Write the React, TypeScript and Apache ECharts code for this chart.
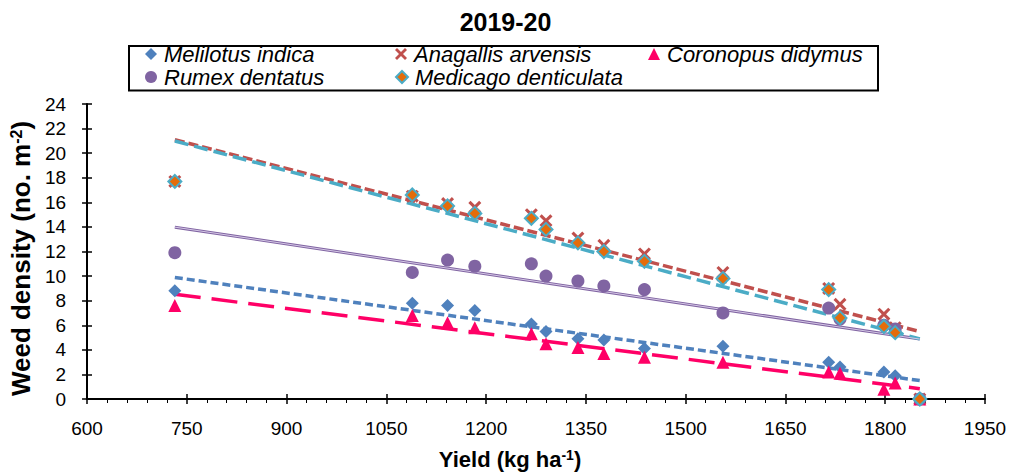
import { useEffect, useRef } from 'react';
import * as echarts from 'echarts';

const yieldKg = [732, 1089, 1142, 1183, 1268, 1290, 1338, 1377, 1438, 1556, 1715, 1732, 1798, 1815, 1852];
const melilotus = [8.8, 7.8, 7.6, 7.2, 6.1, 5.5, 4.9, 4.8, 4.1, 4.3, 3.0, 2.6, 2.2, 1.9, 0];
const anagallis = [17.7, 16.5, 15.9, 15.6, 15.0, 14.5, 13.1, 12.5, 11.8, 10.3, 9.0, 7.7, 6.9, 5.8, 0];
const coronopus = [7.6, 6.8, 6.2, 5.8, 5.3, 4.5, 4.2, 3.7, 3.4, 3.0, 2.2, 2.1, 0.8, 1.3, 0];
const rumex = [11.9, 10.3, 11.3, 10.8, 11.0, 10.0, 9.6, 9.2, 8.9, 7.0, 7.4, 6.5, 6.0, 5.7, 0];
const medicago = [17.7, 16.6, 15.7, 15.1, 14.7, 13.8, 12.7, 12.0, 11.2, 9.8, 8.9, 6.6, 5.9, 5.4, 0];

const names = ['Melilotus indica', 'Anagallis arvensis', 'Coronopus didymus', 'Rumex dentatus', 'Medicago denticulata'];
const xTicks = { min: 600, max: 1950, interval: 150 };
const yTicks = { min: 0, max: 24, interval: 2 };

const FONT = '"Liberation Sans", Arial, sans-serif';
const X_PATH = 'path://M0,2 L2,0 L6,4 L10,0 L12,2 L8,6 L12,10 L10,12 L6,8 L2,12 L0,10 L4,6 Z';

function trend(xs: number[], ys: number[]) {
  const n = xs.length;
  const mx = xs.reduce((a, b) => a + b, 0) / n;
  const my = ys.reduce((a, b) => a + b, 0) / n;
  let sxy = 0, sxx = 0;
  for (let i = 0; i < n; i++) {
    sxy += (xs[i] - mx) * (ys[i] - my);
    sxx += (xs[i] - mx) * (xs[i] - mx);
  }
  const b = sxy / sxx;
  const a = my - b * mx;
  const x0 = Math.min(...xs), x1 = Math.max(...xs);
  return [[x0, a + b * x0], [x1, a + b * x1]];
}

function pts(ys: number[]) {
  return yieldKg.map((x, i) => [x, ys[i]]);
}

export default function App() {
  const ref = useRef<HTMLDivElement>(null);
  useEffect(() => {
    if (!ref.current) return;
    const chart = echarts.init(ref.current, null, { renderer: 'svg' });
    const lineSeries = (name: string, ys: number[], color: string, width: number, type: any, z = 2) => ({
      type: 'line', name, data: trend(yieldKg, ys), symbol: 'none', silent: true, z,
      lineStyle: { color, width, type, cap: 'butt' },
    });
    const legendItem = (name: string, left: number, top: number) => ({
      data: [name], left, top, padding: 0, itemGap: 0, itemWidth: 12, itemHeight: 12,
      selectedMode: false,
      textStyle: { fontFamily: FONT, fontSize: 22, fontStyle: 'italic', color: '#000', lineHeight: 22, padding: [0, 0, 0, 2] },
    });
    chart.setOption({
      animation: false,
      backgroundColor: '#fff',
      title: {
        text: '2019-20', left: 'center', top: 9, padding: 0,
        textStyle: { fontFamily: FONT, fontSize: 25, fontWeight: 'bold', color: '#000' },
      },
      legend: [
        legendItem(names[0], 145, 43),
        legendItem(names[1], 395, 43),
        legendItem(names[2], 648, 43),
        legendItem(names[3], 145, 66),
        legendItem(names[4], 395, 66),
      ],
      graphic: [{
        type: 'rect', shape: { x: 129, y: 46, width: 749, height: 44.5 },
        style: { fill: 'none', stroke: '#000', lineWidth: 2 }, z: 10,
      }],
      grid: { left: 77, right: 26, top: 104, bottom: 75 },
      xAxis: [
        {
          type: 'value', ...xTicks, position: 'bottom',
          name: 'Yield (kg ha{sup|-1})', nameLocation: 'middle', nameGap: 49,
          nameTextStyle: {
            fontFamily: FONT, fontSize: 22, fontWeight: 'bold', color: '#000', padding: [0, 52, 0, 0],
            rich: { sup: { fontFamily: FONT, fontSize: 14, fontWeight: 'bold', color: '#000', verticalAlign: 'top' } },
          },
          axisLine: { show: true, onZero: false, lineStyle: { color: '#000', width: 2 } },
          axisTick: { show: true, length: 5, lineStyle: { color: '#000', width: 1.5 } },
          minorTick: { show: true, splitNumber: 5, length: 4, lineStyle: { color: '#000', width: 1 } },
          axisLabel: { fontFamily: FONT, fontSize: 19, color: '#000', margin: 20, formatter: (v: number) => String(v) },
          splitLine: { show: false },
        },
        {
          type: 'value', ...xTicks, position: 'bottom',
          axisLine: { show: false },
          axisTick: { show: true, inside: true, length: 5, lineStyle: { color: '#000', width: 1.5 } },
          axisLabel: { show: false },
          splitLine: { show: false },
        },
      ],
      yAxis: [
        {
          type: 'value', ...yTicks, position: 'left',
          name: 'Weed density (no. m{sup|-2})', nameLocation: 'middle', nameGap: 30,
          nameTextStyle: {
            fontFamily: FONT, fontSize: 26, fontWeight: 'bold', color: '#000', padding: [0, 14, 0, 0],
            rich: { sup: { fontFamily: FONT, fontSize: 16, fontWeight: 'bold', color: '#000', verticalAlign: 'top' } },
          },
          axisLine: { show: true, onZero: false, lineStyle: { color: '#000', width: 2 } },
          axisTick: { show: true, length: 5, lineStyle: { color: '#000', width: 1.5 } },
          axisLabel: { fontFamily: FONT, fontSize: 19, color: '#000', margin: 21 },
          splitLine: { show: false },
        },
        {
          type: 'value', ...yTicks, position: 'left',
          axisLine: { show: false },
          axisTick: { show: true, inside: true, length: 5, lineStyle: { color: '#000', width: 1.5 } },
          axisLabel: { show: false },
          splitLine: { show: false },
        },
      ],
      series: [
        lineSeries('trend-melilotus', melilotus, '#4F81BD', 3.5, [8, 4]),
        lineSeries('trend-anagallis', anagallis, '#C0504D', 3.5, [10, 4]),
        lineSeries('trend-coronopus', coronopus, '#FF0066', 3.5, [26, 11]),
        lineSeries('trend-rumex', rumex, '#8064A2', 3, 'solid'),
        lineSeries('trend-rumex-inner', rumex, '#D5C8E6', 1, 'solid', 2.1),
        lineSeries('trend-medicago', medicago, '#4BACC6', 3.5, [14, 6]),
        {
          type: 'scatter', name: names[0], data: pts(melilotus), symbol: 'diamond', symbolSize: 13, z: 3,
          itemStyle: { color: '#4F81BD', opacity: 1 },
        },
        {
          type: 'scatter', name: names[1], data: pts(anagallis), symbol: X_PATH, symbolSize: 13, z: 3,
          itemStyle: { color: '#C0504D', opacity: 1 },
        },
        {
          type: 'scatter', name: names[2], data: pts(coronopus), symbol: 'triangle', symbolSize: 13, z: 3,
          itemStyle: { color: '#FF0066', opacity: 1 },
        },
        {
          type: 'scatter', name: names[3], data: pts(rumex), symbol: 'circle', symbolSize: 13, z: 3,
          itemStyle: { color: '#8064A2', opacity: 1 },
        },
        {
          type: 'scatter', name: names[4], data: pts(medicago), symbol: 'diamond', symbolSize: 13, z: 3,
          itemStyle: { color: '#E46C0A', borderColor: '#4BACC6', borderWidth: 2, opacity: 1 },
        },
      ],
    });
    return () => chart.dispose();
  }, []);
  return <div ref={ref} style={{ position: 'fixed', left: 0, top: 0, width: 1011, height: 475 }} />;
}
